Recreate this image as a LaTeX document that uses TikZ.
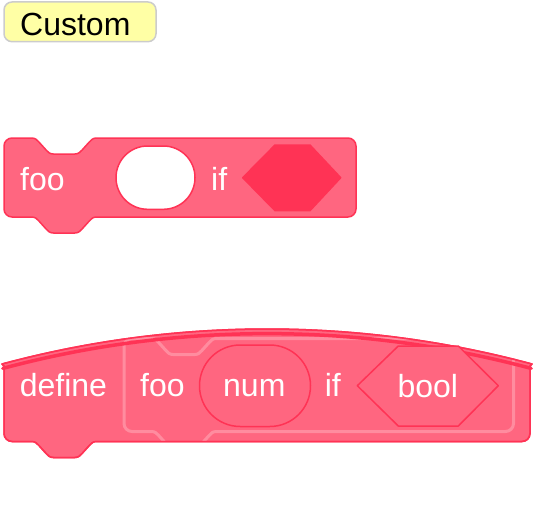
\documentclass[tikz,border=0pt]{standalone}
\usepackage{fontspec}
\setmainfont{Liberation Sans}
\definecolor{blkfill}{HTML}{FF6680}
\definecolor{blkline}{HTML}{FF3355}
\definecolor{notefill}{HTML}{FFFFA5}
\definecolor{noteline}{HTML}{CCCCCC}
\newcommand{\blkfont}{\fontsize{32}{38}\selectfont}
\tikzset{
 blk/.style={fill=blkfill,draw=blkline,line width=1.5pt,line join=round},
 slot/.style={draw=blkline,line width=1.5pt,line join=round},
 lbl/.style={text=white,font=\blkfont,anchor=base west,inner sep=0pt},
 proto/.style={draw=white,draw opacity=0.25,line width=3pt,line join=round},
 topnotch/.style 2 args={insert path={-- (#1,#2) .. controls ({#1+3.6},#2) and ({#1+5.4},{#2+2}) .. ({#1+7.2},{#2+4}) -- ({#1+14.4},{#2+12}) .. controls ({#1+16.2},{#2+14}) and ({#1+18},{#2+16}) .. ({#1+21.6},{#2+16}) -- ({#1+43.2},{#2+16}) .. controls ({#1+46.8},{#2+16}) and ({#1+48.6},{#2+14}) .. ({#1+50.4},{#2+12}) -- ({#1+57.6},{#2+4}) .. controls ({#1+59.4},{#2+2}) and ({#1+61.2},#2) .. ({#1+64.8},#2)}},
 bottab/.style 2 args={insert path={-- ({#1+64.8},#2) .. controls ({#1+61.2},#2) and ({#1+59.4},{#2+2}) .. ({#1+57.6},{#2+4}) -- ({#1+50.4},{#2+12}) .. controls ({#1+48.6},{#2+14}) and ({#1+46.8},{#2+16}) .. ({#1+43.2},{#2+16}) -- ({#1+21.6},{#2+16}) .. controls ({#1+18},{#2+16}) and ({#1+16.2},{#2+14}) .. ({#1+14.4},{#2+12}) -- ({#1+7.2},{#2+4}) .. controls ({#1+5.4},{#2+2}) and ({#1+3.6},#2) .. (#1,#2)}}
}
\begin{document}
\begin{tikzpicture}[x=1pt,y=-1pt]
\useasboundingbox (0,0) rectangle (534,516);

% Custom label
\path[draw=noteline,fill=notefill,line width=1.5pt,rounded corners=8pt] (4,2) rectangle (156,41.7);
\node[font=\blkfont,text=black,anchor=base west,inner sep=0pt] (custom) at (20,35.7) {Custom};

% Block 1
\path[blk] (4,146) .. controls (4,141.6) and (7.6,138) .. (12,138) [topnotch={31.7}{138}] -- (348,138) .. controls (352.4,138) and (356,141.6) .. (356,146) -- (356,209) .. controls (356,213.4) and (352.4,217) .. (348,217) [bottab={31.7}{217}] -- (12,217) .. controls (7.6,217) and (4,213.4) .. (4,209) -- cycle;
\path[slot,fill=white,rounded corners=31.6pt] (116,146) rectangle (195,209.3);
\path[slot,fill=blkline] (242.7,177.7) -- (275,145) -- (310,145) -- (340.7,177.7) -- (310,210.7) -- (275,210.7) -- cycle;
\node[lbl] (foo1) at (20,190) {foo};
\node[lbl] (if1) at (211,190) {if};

% Block 2 (define)
\path[blk] (2,364) arc[start angle=254.95,end angle=285.05,radius=1020.7] -- (530,366) -- (530,433.5) .. controls (530,437.9) and (526.4,441.5) .. (522,441.5) [bottab={31.7}{441.5}] -- (12,441.5) .. controls (7.6,441.5) and (4,437.9) .. (4,433.5) -- (4,366) -- cycle;
\begin{scope}
\clip (2,364) arc[start angle=254.95,end angle=285.05,radius=1020.7] -- (530,366) -- (530,433.5) .. controls (530,437.9) and (526.4,441.5) .. (522,441.5) [bottab={31.7}{441.5}] -- (12,441.5) .. controls (7.6,441.5) and (4,437.9) .. (4,433.5) -- (4,366) -- cycle;
\path[proto] (124,346.5) .. controls (124,342.1) and (127.6,338.5) .. (132,338.5) [topnotch={151.5}{338.5}] -- (505.5,338.5) .. controls (509.9,338.5) and (513.5,342.1) .. (513.5,346.5) -- (513.5,423.5) .. controls (513.5,427.9) and (509.9,431.5) .. (505.5,431.5) [bottab={151.5}{431.5}] -- (132,431.5) .. controls (127.6,431.5) and (124,427.9) .. (124,423.5) -- cycle;
\end{scope}
\path[draw=blkline,line width=1.5pt,line join=round] (2,364) arc[start angle=254.95,end angle=285.05,radius=1020.7] -- (530,366) -- (530,433.5) .. controls (530,437.9) and (526.4,441.5) .. (522,441.5) [bottab={31.7}{441.5}] -- (12,441.5) .. controls (7.6,441.5) and (4,437.9) .. (4,433.5) -- (4,366) -- cycle;
\draw[blkline,line width=3.5pt,line cap=round] (2.8,368.4) arc[start angle=255,end angle=285,radius=1020.7];

\path[slot,fill=blkfill,rounded corners=40.7pt] (199.5,345) rectangle (310.5,426.5);
\path[slot,fill=blkfill] (357.3,385.7) -- (398.3,346) -- (458.3,346) -- (498.3,385.7) -- (458.3,426) -- (398.3,426) -- cycle;
\node[lbl] (define) at (19.6,396.7) {define};
\node[lbl] (foo2) at (140,396.7) {foo};
\node[lbl] (num) at (223,396.7) {num};
\node[lbl] (if2) at (324.6,396.7) {if};
\node[lbl] (bool) at (397.4,397) {bool};
\end{tikzpicture}
\end{document}
